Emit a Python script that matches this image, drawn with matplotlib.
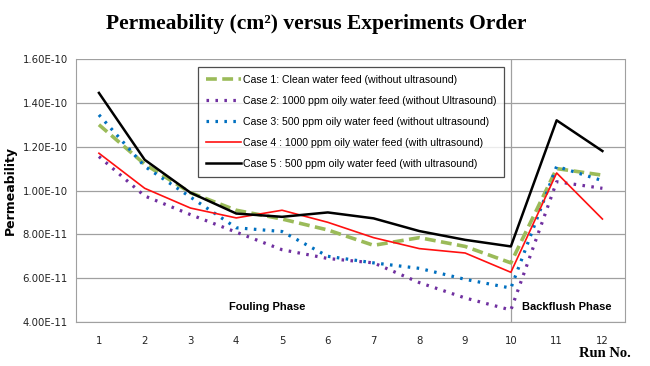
import matplotlib.pyplot as plt
import numpy as np

runs = np.arange(1, 13)
labels = ['Case 1: Clean water feed (without ultrasound)',
          'Case 2: 1000 ppm oily water feed (without Ultrasound)',
          'Case 3: 500 ppm oily water feed (without ultrasound)',
          'Case 4 : 1000 ppm oily water feed (with ultrasound)',
          'Case 5 : 500 ppm oily water feed (with ultrasound)']

case1 = [1.30e-10, 1.12e-10, 0.99e-10, 9.10e-11, 8.70e-11, 8.20e-11, 7.50e-11, 7.85e-11, 7.45e-11, 6.70e-11, 1.10e-10, 1.07e-10]
case2 = [1.155e-10, 9.75e-11, 8.90e-11, 8.10e-11, 7.30e-11, 6.90e-11, 6.70e-11, 5.80e-11, 5.10e-11, 4.55e-11, 1.04e-10, 1.01e-10]
case3 = [1.345e-10, 1.11e-10, 9.70e-11, 8.30e-11, 8.13e-11, 7.00e-11, 6.70e-11, 6.45e-11, 5.95e-11, 5.55e-11, 1.11e-10, 1.045e-10]
case4 = [1.17e-10, 1.01e-10, 9.20e-11, 8.75e-11, 9.10e-11, 8.55e-11, 7.85e-11, 7.35e-11, 7.15e-11, 6.27e-11, 1.08e-10, 8.70e-11]
case5 = [1.445e-10, 1.14e-10, 9.90e-11, 8.95e-11, 8.80e-11, 9.00e-11, 8.73e-11, 8.15e-11, 7.75e-11, 7.45e-11, 1.32e-10, 1.18e-10]

yticks = [4e-11, 6e-11, 8e-11, 1e-10, 1.2e-10, 1.4e-10, 1.6e-10]
ytick_labels = ['4.00E-11', '6.00E-11', '8.00E-11', '1.00E-10', '1.20E-10', '1.40E-10', '1.60E-10']

fig = plt.figure(figsize=(6.5, 3.66), dpi=100)
ax = fig.add_axes([0.117, 0.120, 0.845, 0.719])

ax.plot(runs, case1, color='#9BBB59', lw=2.6, ls=(0, (3, 1.5)), label=labels[0])
ax.plot(runs, case2, color='#7030A0', lw=2.3, ls=(0, (0.8, 2.0)), label=labels[1])
ax.plot(runs, case3, color='#0070C0', lw=2.3, ls=(0, (0.8, 2.0)), label=labels[2])
ax.plot(runs, case4, color='#FF1010', lw=1.2, label=labels[3])
ax.plot(runs, case5, color='black', lw=1.8, label=labels[4])

ax.set_xlim(0.5, 12.5)
ax.set_ylim(4e-11, 1.6e-10)
ax.set_xticks(runs)
ax.set_yticks(yticks)
ax.set_yticklabels(ytick_labels)
ax.tick_params(length=0, labelsize=7.3, colors='#222222', pad=6)
ax.tick_params(axis='x', pad=10)
ax.grid(axis='y', color='#a0a0a0', lw=0.9)
ax.set_axisbelow(True)
ax.axvline(10, color='#a0a0a0', lw=0.9, zorder=0)
for side in ['left', 'bottom', 'right']:
	ax.spines[side].set_color('#a0a0a0')
ax.spines['top'].set_visible(False)

ax.set_ylabel('Permeability', fontsize=9, fontweight='bold', labelpad=4)
fig.text(0.487, 0.935, 'Permeability (cm\u00b2) versus Experiments Order', ha='center', va='center',
	fontsize=15.5, fontweight='bold', family='Liberation Serif')
fig.text(0.97, 0.035, 'Run No.', ha='right', va='center', fontsize=10.5, fontweight='bold', family='Liberation Serif')

ax.text(4.67, 4.7e-11, 'Fouling Phase', ha='center', va='center', fontsize=8, fontweight='bold', family='Liberation Sans')
ax.text(11.23, 4.7e-11, 'Backflush Phase', ha='center', va='center', fontsize=8, fontweight='bold', family='Liberation Sans')

leg = ax.legend(loc='upper left', bbox_to_anchor=(0.213, 0.99), frameon=True, fancybox=False,
	handlelength=3.3, handletextpad=0.15, labelspacing=1.05, borderpad=0.75,
	prop={'family': 'Liberation Sans', 'size': 7.6})
leg.get_frame().set_edgecolor('#222222')
leg.get_frame().set_linewidth(0.9)

fig.savefig('out.png', dpi=100)
